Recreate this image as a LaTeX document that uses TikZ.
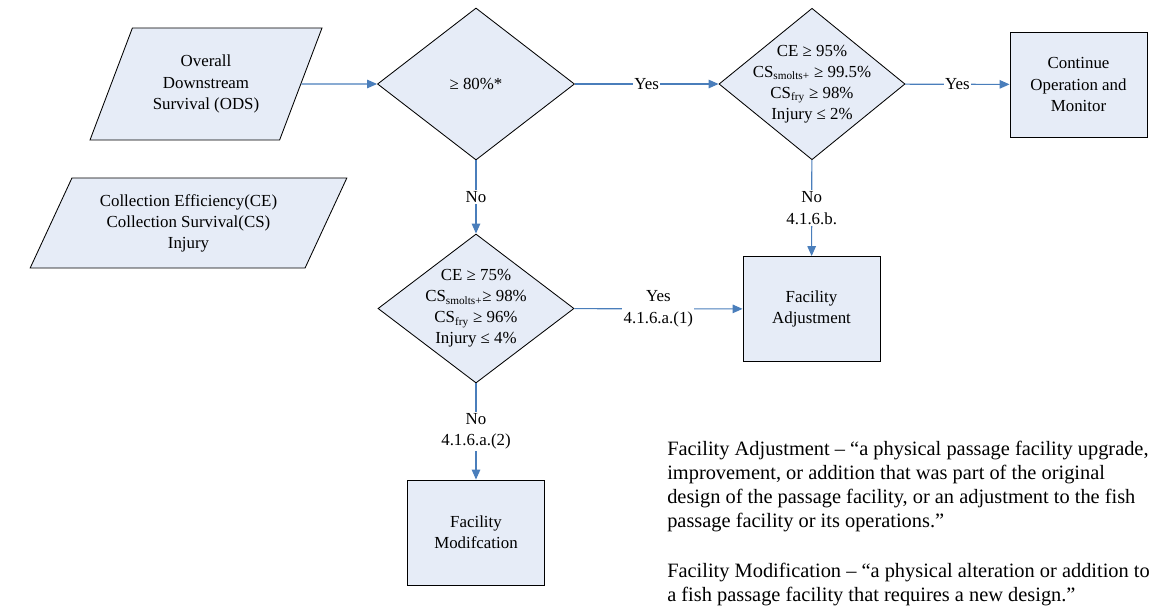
\documentclass[tikz,border=0pt]{standalone}
\usepackage{fontspec}
\setmainfont{Liberation Serif}
\usetikzlibrary{shapes.geometric,arrows.meta}
\definecolor{boxfill}{RGB}{230,236,247}
\definecolor{flowblue}{RGB}{74,126,187}
\tikzset{
  shapebox/.style={draw=black, line width=0.6pt, fill=boxfill, align=center,
    font=\fontsize{12pt}{15pt}\selectfont},
  decision/.style={shapebox, diamond, inner sep=-8pt},
  process/.style={shapebox, rectangle, minimum width=3.425cm, minimum height=2.625cm},
  data/.style={shapebox, trapezium, trapezium left angle=63.5,
    trapezium right angle=116.5, trapezium stretches=true},
  flow/.style={draw=flowblue, line width=0.8pt, -{Triangle[length=7pt,width=6pt]}},
  cond/.style={fill=white, inner sep=1pt, align=center,
    font=\fontsize{12pt}{15pt}\selectfont}
}
\begin{document}
\begin{tikzpicture}[x=0.025cm,y=-0.025cm]
            \useasboundingbox (0,0) rectangle (1153,607);
            \node[data, minimum width=5.8cm, minimum height=2.8cm] (ods) at (206,84) {Overall\\Downstream\\Survival (ODS)};
            \node[data, minimum width=7.925cm, minimum height=2.25cm] (inputs) at (188.5,223) {Collection Efficiency(CE)\\Collection Survival(CS)\\Injury};
            \node[decision, minimum width=4.925cm, minimum height=3.8cm] (odsok) at (476,84) {≥ 80\%*};
            \node[decision, minimum width=4.65cm, minimum height=3.7cm] (highok) at (812,84) {CE ≥ 95\%\\CS\textsubscript{smolts+} ≥ 99.5\%\\CS\textsubscript{fry} ≥ 98\%\\Injury ≤ 2\%};
            \node[decision, minimum width=4.9cm, minimum height=3.725cm] (lowok) at (476,308.5) {CE ≥ 75\%\\CS\textsubscript{smolts+}≥ 98\%\\CS\textsubscript{fry} ≥ 96\%\\Injury ≤ 4\%};
            \node[process] (cont) at (1078.5,84.5) {Continue\\Operation and\\Monitor};
            \node[process] (adjust) at (811.5,309) {Facility\\Adjustment};
            \node[process] (modify) at (476,532.5) {Facility\\Modifcation};
            \draw[flow] (ods) -- (odsok);
            \draw[flow] (odsok) -- (highok) node[cond,midway] {Yes};
            \draw[flow] (highok) -- (cont) node[cond,midway] {Yes};
            \draw[flow] (odsok) -- (lowok) node[cond,midway] {No};
            \draw[flow] (highok) -- (adjust) node[cond,midway] {No\\4.1.6.b.};
            \draw[flow] (lowok) -- (adjust) node[cond,midway] {Yes\\4.1.6.a.(1)};
            \draw[flow] (lowok) -- (modify) node[cond,midway] {No\\4.1.6.a.(2)};
            \node[anchor=north west, align=left, inner sep=0pt, font=\fontsize{14.5pt}{17pt}\selectfont] (terms) at (667,441)
              {Facility Adjustment – “a physical passage facility upgrade,\\
               improvement, or addition that was part of the original\\
               design of the passage facility, or an adjustment to the fish\\
               passage facility or its operations.”\\[19pt]
               Facility Modification – “a physical alteration or addition to\\
               a fish passage facility that requires a new design.”};
        \end{tikzpicture}
\end{document}
